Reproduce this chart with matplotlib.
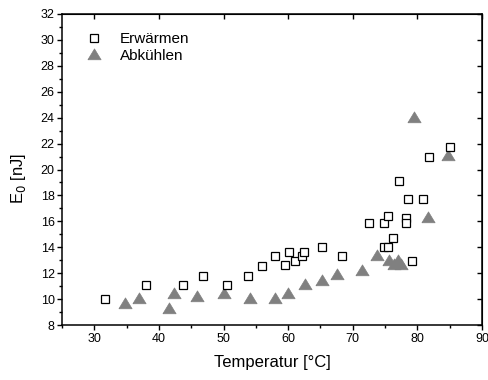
import matplotlib
matplotlib.use('Agg')
import matplotlib.pyplot as plt
from matplotlib.ticker import MultipleLocator

plt.rcParams['font.family'] = ['Liberation Sans', 'DejaVu Sans']

# Heating run (Erwärmen)
temp_heat = [31.7, 38.0, 43.7, 46.8, 50.6, 53.8, 55.9, 57.9, 59.5, 60.2, 61.1, 62.1,
             62.4, 65.2, 68.3, 72.5, 74.8, 75.5, 74.8, 75.4, 76.3, 77.2, 78.3, 78.3,
             78.5, 79.2, 80.8, 81.8, 85.0]
e0_heat = [10.0, 11.1, 11.1, 11.8, 11.1, 11.8, 12.55, 13.3, 12.6, 13.65, 12.95, 13.3,
           13.65, 14.05, 13.3, 15.85, 14.05, 14.05, 15.85, 16.4, 14.75, 19.15, 16.25, 15.85,
           17.7, 12.95, 17.7, 21.0, 21.75]

# Cooling run (Abkühlen)
temp_cool = [34.7, 36.9, 41.6, 42.4, 45.9, 50.1, 54.1, 58.0, 60.0, 62.6, 65.2, 67.5,
             71.5, 73.7, 75.6, 76.4, 77.0, 77.5, 79.4, 81.6, 84.7]
e0_cool = [9.7, 10.05, 9.35, 10.45, 10.25, 10.45, 10.05, 10.05, 10.45, 11.15, 11.5, 11.9,
           12.25, 13.4, 13.05, 12.7, 13.0, 12.7, 24.05, 16.35, 21.1]

tri = [(-1.0, -0.8), (1.0, -0.8), (0.0, 0.85), (-1.0, -0.8)]

fig = plt.figure(figsize=(4.88, 3.8), dpi=100)
ax = fig.add_axes([62 / 488, 55 / 380, 420 / 488, 311 / 380])

ax.plot(temp_heat, e0_heat, linestyle='none', marker='s', markersize=6.3,
        markerfacecolor='white', markeredgecolor='black', markeredgewidth=0.9,
        label='Erwärmen', zorder=3)
ax.plot(temp_cool, e0_cool, linestyle='none', marker=tri, markersize=9.5,
        markerfacecolor='#808080', markeredgecolor='#808080', markeredgewidth=0.5,
        label='Abkühlen', zorder=2)

ax.set_xlim(25, 90)
ax.set_ylim(8, 32)
ax.xaxis.set_major_locator(MultipleLocator(10))
ax.xaxis.set_minor_locator(MultipleLocator(5))
ax.yaxis.set_major_locator(MultipleLocator(2))
ax.yaxis.set_minor_locator(MultipleLocator(1))

for sp in ax.spines.values():
    sp.set_linewidth(1.1)

ax.tick_params(which='major', direction='out', length=3.8, width=1.0, labelsize=9, pad=2)
ax.tick_params(which='minor', direction='out', length=2.2, width=1.0)
ax.tick_params(axis='y', pad=1.5)

# mirrored major ticks pointing inward on top and right
top = ax.secondary_xaxis('top')
top.xaxis.set_major_locator(MultipleLocator(10))
top.tick_params(direction='in', length=3.8, width=1.0, labeltop=False)
right = ax.secondary_yaxis('right')
right.yaxis.set_major_locator(MultipleLocator(2))
right.tick_params(direction='in', length=3.8, width=1.0, labelright=False)

ax.set_xlabel('Temperatur [°C]', fontsize=12, labelpad=7)
ax.set_ylabel('E$_0$ [nJ]', fontsize=12)
ax.yaxis.set_label_coords(-0.082, 0.47)

ax.legend(loc='upper left', frameon=False, fontsize=11, handletextpad=0.9,
          borderaxespad=0.5, bbox_to_anchor=(0.017, 0.985), labelspacing=0.15,
          handlelength=1.5)

fig.savefig('out.png', dpi=100)
